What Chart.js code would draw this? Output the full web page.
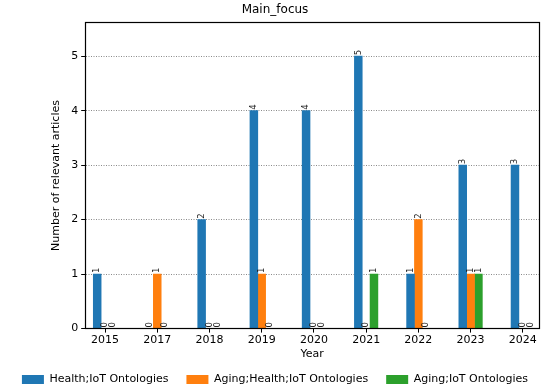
<!DOCTYPE html>
<html>
<head>
<meta charset="utf-8">
<script src="https://cdn.jsdelivr.net/npm/chart.js@4.4.0/dist/chart.umd.min.js"></script>
<style>
  html, body { margin: 0; padding: 0; background: #fff; }
  #wrap { width: 550px; height: 389px; }
</style>
</head>
<body>
<div id="wrap"><canvas id="chart"></canvas></div>
<script>
const years = ['2015', '2017', '2018', '2019', '2020', '2021', '2022', '2023', '2024'];
const healthIot = [1, 0, 2, 4, 4, 5, 1, 3, 3];
const agingHealthIot = [0, 1, 0, 1, 0, 0, 2, 1, 0];
const agingIot = [0, 0, 0, 0, 0, 1, 0, 1, 0];
const yTicks = [0, 1, 2, 3, 4, 5];

const FONT = "'DejaVu Sans', sans-serif";

function series(values, shift) {
  return values.map((v, i) => ({ x: i + shift, y: v }));
}

// value labels rotated 90deg above each bar
const barLabels = {
  id: 'barLabels',
  afterDatasetsDraw(chart) {
    const ctx = chart.ctx;
    ctx.save();
    ctx.font = '8.5px ' + FONT;
    ctx.fillStyle = '#222';
    ctx.textAlign = 'left';
    ctx.textBaseline = 'middle';
    chart.data.datasets.forEach((ds, di) => {
      chart.getDatasetMeta(di).data.forEach((bar, i) => {
        ctx.save();
        ctx.translate(bar.x, bar.y - 1);
        ctx.rotate(-Math.PI / 2);
        ctx.fillText(String(ds.data[i].y), 0, 0);
        ctx.restore();
      });
    });
    ctx.restore();
  }
};

// full box around the plot like matplotlib spines
const frame = {
  id: 'frame',
  afterDraw(chart) {
    const a = chart.chartArea;
    const ctx = chart.ctx;
    ctx.save();
    ctx.strokeStyle = '#000';
    ctx.lineWidth = 1.2;
    ctx.strokeRect(Math.round(a.left) + 0.5, Math.round(a.top) + 0.5,
      Math.round(a.right - a.left), Math.round(a.bottom - a.top));
    ctx.restore();
  }
};

Chart.defaults.font.family = FONT;
Chart.defaults.color = '#000';
Chart.defaults.animation = false;

new Chart(document.getElementById('chart'), {
  type: 'bar',
  data: {
    datasets: [
      { label: 'Health;IoT Ontologies', data: series(healthIot, -0.15), backgroundColor: '#1f77b4' },
      { label: 'Aging;Health;IoT Ontologies', data: series(agingHealthIot, 0), backgroundColor: '#ff7f0e' },
      { label: 'Aging;IoT Ontologies', data: series(agingIot, 0.15), backgroundColor: '#2ca02c' }
    ]
  },
  options: {
    responsive: true,
    maintainAspectRatio: false,
    grouped: false,
    barPercentage: 1,
    categoryPercentage: 1,
    layout: { padding: { left: 0, right: 0, top: 0, bottom: -6 } },
    plugins: {
      title: {
        display: true,
        text: 'Main_focus',
        font: { size: 12, weight: 'normal' },
        padding: { top: 3, bottom: 5 }
      },
      legend: {
        position: 'bottom',
        labels: {
          boxWidth: 22,
          boxHeight: 9,
          padding: 18,
          font: { size: 11 }
        }
      },
      tooltip: { enabled: false }
    },
    scales: {
      x: {
        type: 'linear',
        offset: false,
        min: -0.38,
        max: 8.31,
        afterBuildTicks(scale) {
          scale.ticks = years.map((_, i) => ({ value: i }));
        },
        ticks: {
          font: { size: 11 },
          padding: 1,
          maxRotation: 0,
          callback: (v) => years[v]
        },
        grid: { drawOnChartArea: false, offset: false, tickLength: 4, color: '#000' },
        border: { display: true, color: '#000' },
        title: { display: true, text: 'Year', font: { size: 11 }, padding: { top: 0, bottom: -5 } }
      },
      y: {
        min: 0,
        max: 5.62,
        afterBuildTicks(scale) {
          scale.ticks = yTicks.map(v => ({ value: v }));
        },
        ticks: { font: { size: 11 }, padding: 3 },
        grid: {
          color: '#8a8a8a',
          tickLength: 4,
          tickColor: '#000',
          tickBorderDash: []
        },
        border: { display: true, color: '#000', dash: [1, 1.5] },
        title: { display: true, text: 'Number of relevant articles', font: { size: 11 }, padding: { top: 50, bottom: 5 } }
      },
      // empty right axis only to keep the right margin
      yRight: {
        position: 'right',
        grid: { display: false },
        ticks: { display: false },
        border: { display: false },
        afterFit(scale) { scale.width = 11; }
      }
    }
  },
  plugins: [barLabels, frame]
});
</script>
</body>
</html>
